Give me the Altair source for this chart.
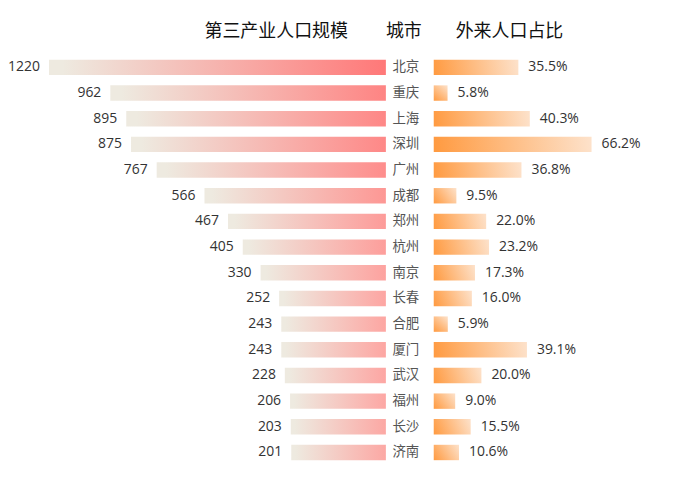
import altair as alt
import pandas as pd

# ---- data ----
cities = ["北京", "重庆", "上海", "深圳", "广州", "成都", "郑州", "杭州",
          "南京", "长春", "合肥", "厦门", "武汉", "福州", "长沙", "济南"]
tertiary = [1220, 962, 895, 875, 767, 566, 467, 405, 330, 252, 243, 243, 228, 206, 203, 201]
migrant = [35.5, 5.8, 40.3, 66.2, 36.8, 9.5, 22.0, 23.2, 17.3, 16.0, 5.9, 39.1, 20.0, 9.0, 15.5, 10.6]

df = pd.DataFrame({"city": cities, "tertiary": tertiary, "migrant": migrant})

# ---- layout ----
H = 412
LEFT_W, MID_W, RIGHT_W = 377, 48, 247
LEFT_BASE, LEFT_MAX = -197, 1384
RIGHT_MAX = 103.3
PAD_INNER, PAD_OUTER = 0.4, 0.2
FONT = "Noto Sans CJK SC"
NUM_FONT = "Open Sans"


def hex2rgb(h):
    h = h.lstrip("#")
    return [int(h[i:i + 2], 16) for i in (0, 2, 4)]


def mix(c1, c2, t):
    a, b = hex2rgb(c1), hex2rgb(c2)
    return "#" + "".join(f"{round(x + (y - x) * t):02x}" for x, y in zip(a, b))


def left_grad(v):
    t = v / max(tertiary)
    end = mix("#fcb1ad", "#ff7878", t)
    return alt.Gradient(
        gradient="linear",
        stops=[alt.GradientStop(color="#eeeae0", offset=0),
               alt.GradientStop(color="#eeeae0", offset=0.04),
               alt.GradientStop(color=end, offset=1)],
        x1=0, y1=0, x2=1, y2=0)


step = H / (len(cities) - PAD_INNER + 2 * PAD_OUTER)
bar_h = step * (1 - PAD_INNER)


def right_grad(v):
    w = v * RIGHT_W / RIGHT_MAX
    a = w * w / (w * w + bar_h * bar_h)
    b = 1 - a
    n = a * a + b * b
    return alt.Gradient(
        gradient="linear",
        stops=[alt.GradientStop(color="#ff9a40", offset=0),
               alt.GradientStop(color="#fde2cb", offset=1)],
        x1=0, y1=1, x2=a / n, y2=1 - b / n)


y_enc = alt.Y("city:N", scale=alt.Scale(domain=cities, paddingInner=PAD_INNER,
                                        paddingOuter=PAD_OUTER), axis=None)


def title(text, anchor, dx):
    return alt.TitleParams(text, anchor=anchor, dx=dx, fontSize=18, font=FONT,
                           color="#111111", fontWeight="normal", offset=14, frame="group")


# ---- left panel ----
left_x = alt.X("tertiary:Q", scale=alt.Scale(domain=[LEFT_BASE, LEFT_MAX], reverse=True), axis=None)
left_layers = []
for c, v in zip(cities, tertiary):
    left_layers.append(
        alt.Chart(df).transform_filter(alt.datum.city == c)
        .mark_bar(fill=left_grad(v))
        .encode(x=left_x, x2=alt.datum(LEFT_BASE), y=y_enc))
left_labels = alt.Chart(df).mark_text(align="right", baseline="middle", dx=-9, fontSize=14,
                                      font=NUM_FONT, color="#333333").encode(
    x=left_x, y=y_enc, text="tertiary:Q")
left = alt.layer(*left_layers, left_labels).properties(
    width=LEFT_W, height=H, title=title("第三产业人口规模", "end", -38))

# ---- middle panel ----
mid = alt.Chart(df).mark_text(baseline="middle", fontSize=13.5, font=FONT,
                              color="#555555").encode(
    x=alt.value(20), y=y_enc, text="city:N").properties(
    width=MID_W, height=H, title=title("城市", "middle", -6))

# ---- right panel ----
right_x = alt.X("migrant:Q", scale=alt.Scale(domain=[0, RIGHT_MAX]), axis=None)
right_layers = []
for c, v in zip(cities, migrant):
    right_layers.append(
        alt.Chart(df).transform_filter(alt.datum.city == c)
        .mark_bar(fill=right_grad(v))
        .encode(x=right_x, x2=alt.datum(0), y=y_enc))
right_labels = alt.Chart(df).transform_calculate(
    label="format(datum.migrant, '.1f') + '%'"
).mark_text(align="left", baseline="middle", dx=10, fontSize=14, font=NUM_FONT,
            color="#333333").encode(x=right_x, y=y_enc, text="label:N")
right = alt.layer(*right_layers, right_labels).properties(
    width=RIGHT_W, height=H, title=title("外来人口占比", "start", 22))

chart = alt.hconcat(left, mid, right, spacing=0).properties(
    padding={"left": 0, "top": 14, "right": 0, "bottom": 0}
).configure_view(stroke=None)

chart.save("out.html", embed_options={"renderer": "svg", "actions": False})
